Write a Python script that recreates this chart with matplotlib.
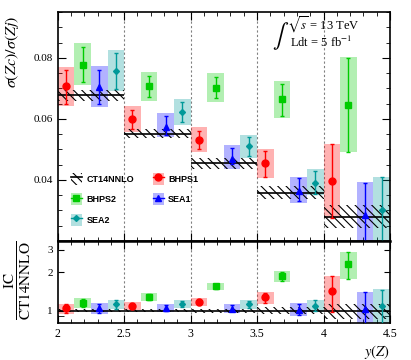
import numpy as np
import matplotlib.pyplot as plt
from matplotlib.patches import Patch
from matplotlib.lines import Line2D
from matplotlib.ticker import MultipleLocator, NullFormatter

plt.rcParams['font.family'] = 'Liberation Serif'
plt.rcParams['mathtext.fontset'] = 'stix'
plt.rcParams['hatch.linewidth'] = 0.8

# y(Z) bins
edges = np.array([2.0, 2.5, 3.0, 3.5, 4.0, 4.5])

# CT14NNLO prediction (no intrinsic charm)
ct14 = np.array([0.0677, 0.0551, 0.0454, 0.0358, 0.0280])
ct14_err = np.array([0.0017, 0.0015, 0.0017, 0.0021, 0.0038])

# IC models : value, error bar ends, box ends
bhps1_val = np.array([0.0706, 0.0600, 0.0532, 0.0454, 0.0397])
bhps1_err_hi = np.array([0.0761, 0.0630, 0.0560, 0.0495, 0.0519])
bhps1_err_lo = np.array([0.0650, 0.0567, 0.0502, 0.0410, 0.0274])
bhps1_box_hi = np.array([0.0769, 0.0641, 0.0574, 0.0502, 0.0519])
bhps1_box_lo = np.array([0.0641, 0.0557, 0.0492, 0.0406, 0.0274])

bhps2_val = np.array([0.0778, 0.0706, 0.0702, 0.0665, 0.0645])
bhps2_err_hi = np.array([0.0835, 0.0741, 0.0737, 0.0715, 0.0798])
bhps2_err_lo = np.array([0.0720, 0.0671, 0.0667, 0.0609, 0.0492])
bhps2_box_hi = np.array([0.0848, 0.0754, 0.0750, 0.0724, 0.0802])
bhps2_box_lo = np.array([0.0710, 0.0658, 0.0654, 0.0604, 0.0492])

sea1_val = np.array([0.0704, 0.0574, 0.0470, 0.0364, 0.0286])
sea1_err_hi = np.array([0.0761, 0.0609, 0.0506, 0.0406, 0.0391])
sea1_err_lo = np.array([0.0650, 0.0546, 0.0452, 0.0330, 0.0170])
sea1_box_hi = np.array([0.0772, 0.0619, 0.0513, 0.0410, 0.0394])
sea1_box_lo = np.array([0.0639, 0.0541, 0.0437, 0.0326, 0.0170])

sea2_val = np.array([0.0756, 0.0624, 0.0511, 0.0391, 0.0302])
sea2_err_hi = np.array([0.0815, 0.0654, 0.0541, 0.0430, 0.0408])
sea2_err_lo = np.array([0.0699, 0.0591, 0.0478, 0.0355, 0.0180])
sea2_box_hi = np.array([0.0826, 0.0666, 0.0547, 0.0435, 0.0410])
sea2_box_lo = np.array([0.0691, 0.0579, 0.0471, 0.0350, 0.0180])

models = [
    ('BHPS1', bhps1_val, bhps1_err_lo, bhps1_err_hi, bhps1_box_lo, bhps1_box_hi, '#ff0000', 'o', 5.0),
    ('BHPS2', bhps2_val, bhps2_err_lo, bhps2_err_hi, bhps2_box_lo, bhps2_box_hi, '#00cc00', 's', 4.5),
    ('SEA1', sea1_val, sea1_err_lo, sea1_err_hi, sea1_box_lo, sea1_box_hi, '#0000ff', '^', 5.0),
    ('SEA2', sea2_val, sea2_err_lo, sea2_err_hi, sea2_box_lo, sea2_box_hi, '#009999', 'D', 3.0),
]
hatch = '\\\\\\\\'
sub = 0.125  # each model gets a quarter of the bin

fig = plt.figure(figsize=(4.11, 3.6), dpi=100)
ax = fig.add_axes([0.1404, 0.3306, 0.8084, 0.6361])
ax2 = fig.add_axes([0.1404, 0.1028, 0.8084, 0.2278])

handles = {}
for k, (name, val, elo, ehi, blo, bhi, col, mk, ms) in enumerate(models):
    x = edges[:-1] + (k + 0.5) * sub
    for a, scale in ((ax, 1.0), (ax2, ct14)):
        a.bar(x, (bhi - blo) / scale, bottom=blo / scale, width=sub, color=col,
              alpha=0.3, lw=0, zorder=2)
        a.errorbar(x, val / scale, yerr=[(val - elo) / scale, (ehi - val) / scale],
                   fmt=mk, color=col, ms=ms, elinewidth=1.0, capsize=1.5, zorder=5)
    handles[name] = (Patch(facecolor=col, alpha=0.3, lw=0),
                     Line2D([], [], color=col, marker=mk, ms=ms, lw=1.0))

# CT14NNLO hatched band + central line
ax.stairs(ct14 + ct14_err, edges, baseline=ct14 - ct14_err, fill=True,
          facecolor='none', edgecolor='k', hatch=hatch, lw=0, zorder=3)
ax.hlines(ct14, edges[:-1], edges[1:], color='k', lw=1.2, zorder=4)
rel = ct14_err / ct14
ax2.stairs(1 + rel, edges, baseline=1 - rel, fill=True,
           facecolor='none', edgecolor='k', hatch=hatch, lw=0, zorder=3)
ax2.hlines(np.ones(5), edges[:-1], edges[1:], color='k', lw=1.2, zorder=4)
handles['CT14NNLO'] = (Patch(facecolor='none', edgecolor='k', hatch=hatch, lw=0),
                       Line2D([], [], color='k', lw=1.2))

for a in (ax, ax2):
    for xe in edges[1:-1]:
        a.axvline(xe, color='gray', ls=(0, (2, 2)), lw=0.8, zorder=1)
    a.set_xlim(2, 4.5)
    a.xaxis.set_major_locator(MultipleLocator(0.5))
    a.xaxis.set_minor_locator(MultipleLocator(0.1))
    a.tick_params(which='both', direction='in', top=True, right=True)
    a.tick_params(which='major', length=6)
    a.tick_params(which='minor', length=3)
    for s in a.spines.values():
        s.set_linewidth(1.2)

ax.set_ylim(0.02, 0.095)
ax.set_yticks([0.04, 0.06, 0.08], ['0.04', '0.06', '0.08'])
ax.yaxis.set_minor_locator(MultipleLocator(0.005))
ax.tick_params(labelbottom=False, labelsize=8)

ax2.set_yscale('log')
ax2.set_ylim(0.8, 3.5)
ax2.set_yticks([1, 2, 3], ['1', '2', '3'])
ax2.set_yticks([0.9], minor=True)
ax2.yaxis.set_minor_formatter(NullFormatter())
ax2.tick_params(axis='y', which='both', length=4, labelsize=8)
ax2.set_xticks([2, 2.5, 3, 3.5, 4, 4.5], ['2', '2.5', '3', '3.5', '4', '4.5'])
ax2.tick_params(axis='x', labelsize=8.5)
ax2.spines['top'].set_linewidth(1.8)
ax2.set_xlabel(r'$y(Z)$', loc='right', fontsize=10.5, labelpad=2)

fig.text(0.029, 0.856, r'$\sigma(Zc)/\sigma(Zj)$', rotation=90, ha='center', va='center', fontsize=11.5)
fig.text(0.045, 0.222, r'$\dfrac{\mathrm{IC}}{\mathrm{CT14NNLO}}$', rotation=90, ha='center', va='center', fontsize=11)

ax.text(0.690, 0.943, r'$\sqrt{s}$ = 13 TeV', transform=ax.transAxes, ha='left', va='center', fontsize=9)
ax.text(0.672, 0.893, r'$\int$', transform=ax.transAxes, ha='center', va='center', fontsize=17)
ax.text(0.700, 0.865, r'Ldt = 5 fb$^{-1}$', transform=ax.transAxes, ha='left', va='center', fontsize=9)

order = ['CT14NNLO', 'BHPS2', 'SEA2', 'BHPS1', 'SEA1']
ax.legend([handles[n] for n in order], order, ncol=2, loc='upper left',
          bbox_to_anchor=(0.04, 0.297), frameon=False, borderpad=0, borderaxespad=0,
          handlelength=1.2, handleheight=1.7, handletextpad=0.5, labelspacing=0.9,
          columnspacing=2.1, prop={'family': 'Liberation Sans', 'weight': 'bold', 'size': 6.5})

fig.savefig('out.png', dpi=100)
